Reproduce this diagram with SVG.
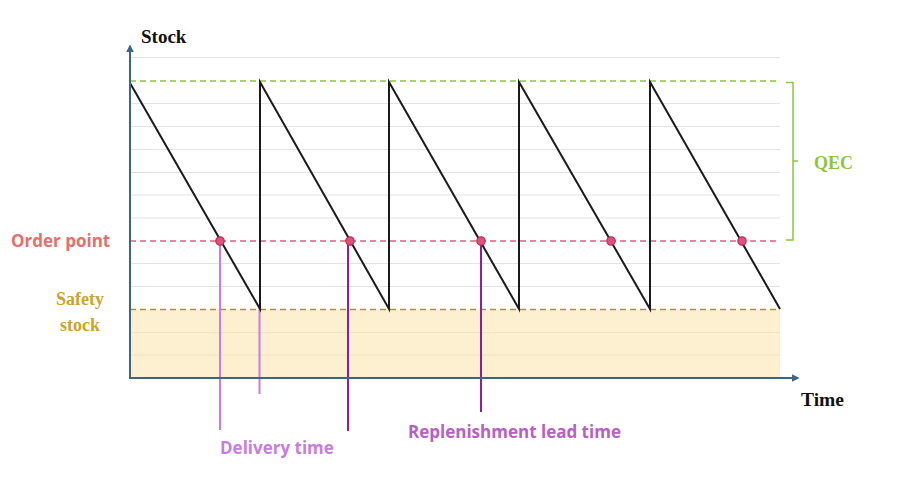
<svg xmlns="http://www.w3.org/2000/svg" width="901" height="487" viewBox="0 0 901 487">
<defs>
<style>
.grid{stroke:#e3e3e3;stroke-width:1}
.gridS{stroke:#f2e2bd;stroke-width:1}
.saw{fill:none;stroke:#1a1a1a;stroke-width:2;stroke-linejoin:miter}
.axis{stroke:#3d6584;stroke-width:2;fill:none}
.dot{fill:#e0507c;stroke:#b8304f;stroke-width:1.2}
.ser{font-family:"Liberation Serif","Times New Roman",serif;font-weight:bold}
.sans{font-family:"Open Sans","Noto Sans",sans-serif;font-weight:bold;font-size:17px}
</style>
<marker id="arr" viewBox="0 0 10 10" refX="8" refY="5" markerWidth="4" markerHeight="4" orient="auto">
<path d="M0,0 L10,5 L0,10 z" fill="#3d6584"/>
</marker>
</defs>
<rect width="901" height="487" fill="#ffffff"/>
<g id="safety-zone">
<rect x="130" y="309.5" width="650" height="68.5" fill="#fdf0d0"/>
</g>
<g id="grid">
<line class="grid" x1="130" y1="57.5" x2="780" y2="57.5"/>
<line class="grid" x1="130" y1="103.5" x2="780" y2="103.5"/>
<line class="grid" x1="130" y1="126.5" x2="780" y2="126.5"/>
<line class="grid" x1="130" y1="149.5" x2="780" y2="149.5"/>
<line class="grid" x1="130" y1="172.5" x2="780" y2="172.5"/>
<line class="grid" x1="130" y1="195" x2="780" y2="195"/>
<line class="grid" x1="130" y1="218" x2="780" y2="218"/>
<line class="grid" x1="130" y1="263.5" x2="780" y2="263.5"/>
<line class="grid" x1="130" y1="286.5" x2="780" y2="286.5"/>
<line class="gridS" x1="130" y1="332.5" x2="780" y2="332.5"/>
<line class="gridS" x1="130" y1="355" x2="780" y2="355"/>
</g>
<g id="qec-line">
<line x1="130" y1="81" x2="780" y2="81" stroke="#8cc63e" stroke-width="1.5" stroke-dasharray="6,4"/>
</g>
<g id="order-point-line">
<line x1="130" y1="241" x2="780" y2="241" stroke="#e0607e" stroke-width="1.5" stroke-dasharray="6,4"/>
</g>
<g id="safety-line">
<line x1="130" y1="309.5" x2="780" y2="309.5" stroke="#b09030" stroke-width="1.5" stroke-dasharray="6,4"/>
</g>
<g id="connectors">
<line x1="220" y1="241" x2="220" y2="430" stroke="#c77de0" stroke-width="2"/>
<line x1="259.5" y1="309" x2="259.5" y2="394" stroke="#c77de0" stroke-width="2"/>
<line x1="348" y1="241" x2="348" y2="431" stroke="#8e1f98" stroke-width="2"/>
<line x1="481" y1="241" x2="481" y2="412" stroke="#8e1f98" stroke-width="2"/>
</g>
<g id="sawtooth">
<path class="saw" d="M130,83 L260,309 L260,82 L389,309 L389,82 L519,309 L519,82 L650,309 L650,82 L780,309"/>
</g>
<g id="axes">
<line class="axis" x1="130" y1="378" x2="130" y2="46" marker-end="url(#arr)"/>
<line class="axis" x1="129" y1="378" x2="798" y2="378" marker-end="url(#arr)"/>
</g>
<g id="order-dots">
<circle class="dot" cx="220" cy="241" r="4.2"/>
<circle class="dot" cx="350" cy="241" r="4.2"/>
<circle class="dot" cx="481" cy="241" r="4.2"/>
<circle class="dot" cx="611" cy="241" r="4.2"/>
<circle class="dot" cx="742" cy="241" r="4.2"/>
</g>
<g id="qec-bracket">
<path d="M786,82.5 L793,82.5 L793,240 L786,240 M793,161 L798,161" fill="none" stroke="#8cc63e" stroke-width="1.5"/>
</g>
<g id="labels">
<text class="ser" x="141" y="43" font-size="19" fill="#111111">Stock</text>
<text class="ser" x="801" y="406" font-size="19.5" fill="#111111">Time</text>
<text class="ser" x="814" y="169" font-size="18" fill="#8cc63e">QEC</text>
<text class="sans" x="11" y="247" fill="#e2706c">Order point</text>
<text class="ser" x="80" y="305" font-size="18" fill="#cfa22a" text-anchor="middle">Safety</text>
<text class="ser" x="80" y="331" font-size="18" fill="#cfa22a" text-anchor="middle">stock</text>
<text class="sans" x="220" y="454" fill="#c77de0">Delivery time</text>
<text class="sans" x="408" y="438" fill="#b660c6">Replenishment lead time</text>
</g>
</svg>
